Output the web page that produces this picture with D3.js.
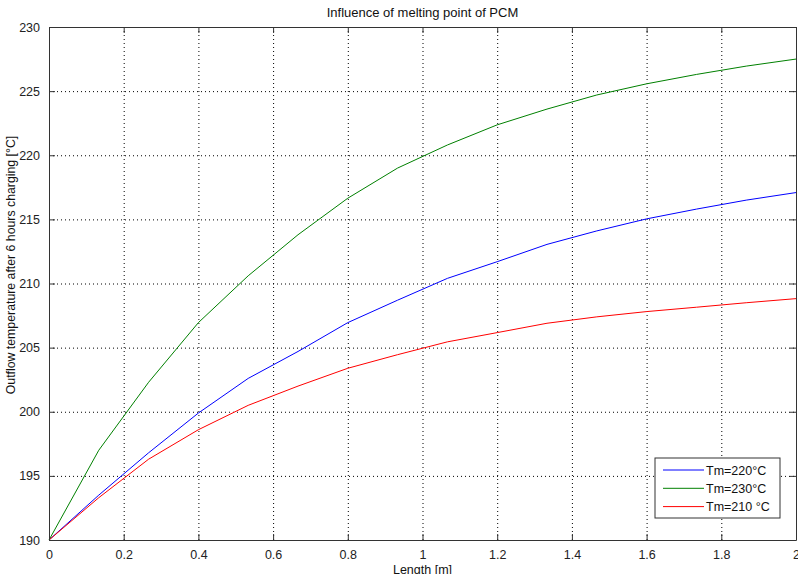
<!DOCTYPE html>
<html>
<head>
<meta charset="utf-8">
<script src="https://cdn.jsdelivr.net/npm/d3@7"></script>
<style>
  body { margin: 0; background: #fff; }
  svg { font-family: "Liberation Sans", Arial, sans-serif; }
</style>
</head>
<body>
<div id="chart"></div>
<script>
// lengths [m] where the model was sampled
const lengths = [0, 0.1333, 0.2667, 0.4, 0.5333, 0.6667, 0.8, 0.9333, 1.0667, 1.2, 1.3333, 1.4667, 1.6, 1.7333, 1.8667, 2];

const tm220 = [190, 193.5, 196.8, 199.9, 202.6, 204.7, 206.95, 208.7, 210.4, 211.7, 213.05, 214.1, 215.04, 215.8, 216.5, 217.09];
const tm230 = [190, 197.0, 202.3, 206.95, 210.6, 213.8, 216.65, 219.0, 220.8, 222.37, 223.6, 224.7, 225.57, 226.3, 226.95, 227.5];
const tm210 = [190, 193.3, 196.3, 198.6, 200.5, 202.0, 203.39, 204.45, 205.45, 206.17, 206.9, 207.4, 207.81, 208.15, 208.5, 208.82];

const seriesNames = ['Tm=220°C', 'Tm=230°C', 'Tm=210 °C'];
const seriesColors = ['#0000ff', '#008000', '#ff0000'];

const xTicks = [0, 0.2, 0.4, 0.6, 0.8, 1, 1.2, 1.4, 1.6, 1.8, 2];
const yTicks = [190, 195, 200, 205, 210, 215, 220, 225, 230];

const W = 798, H = 574;
const margin = { top: 27, right: 2, bottom: 34, left: 49 };
const width = W - margin.left - margin.right;
const height = H - margin.top - margin.bottom;

const svg = d3.select('#chart').append('svg').attr('width', W).attr('height', H);
const g = svg.append('g').attr('transform', `translate(${margin.left},${margin.top})`);

const x = d3.scaleLinear().domain([0, 2]).range([0, width]);
const y = d3.scaleLinear().domain([190, 230]).range([height, 0]);

// dotted grid
g.append('g')
    .attr('transform', `translate(0,${height})`)
    .call(d3.axisBottom(x).tickValues(xTicks).tickSize(-height).tickFormat(''))
    .call(a => a.select('.domain').remove())
    .selectAll('line').attr('stroke', '#000').attr('stroke-dasharray', '1,3');
g.append('g')
    .call(d3.axisLeft(y).tickValues(yTicks).tickSize(-width).tickFormat(''))
    .call(a => a.select('.domain').remove())
    .selectAll('line').attr('stroke', '#000').attr('stroke-dasharray', '1,3');

// curves
const line = d3.line().x((d, i) => x(lengths[i])).y(d => y(d));
const allSeries = [tm220, tm230, tm210];
g.selectAll('path.curve')
    .data(allSeries)
    .enter()
    .append('path')
    .attr('class', 'curve')
    .attr('d', line)
    .attr('fill', 'none')
    .attr('stroke', (d, i) => seriesColors[i])
    .attr('stroke-width', 1);

// axes with inward ticks, box on all sides
const tick = 6;
const fmt = d3.format('~g');
const axBottom = g.append('g').attr('transform', `translate(0,${height})`)
    .call(d3.axisBottom(x).tickValues(xTicks).tickSizeInner(-tick).tickSizeOuter(0).tickPadding(tick + 4).tickFormat(fmt));
const axLeft = g.append('g')
    .call(d3.axisLeft(y).tickValues(yTicks).tickSizeInner(-tick).tickSizeOuter(0).tickPadding(tick + 3));
const axTop = g.append('g')
    .call(d3.axisTop(x).tickValues(xTicks).tickSizeInner(-tick).tickSizeOuter(0).tickFormat(''));
const axRight = g.append('g').attr('transform', `translate(${width},0)`)
    .call(d3.axisRight(y).tickValues(yTicks).tickSizeInner(-tick).tickSizeOuter(0).tickFormat(''));

[axBottom, axLeft, axTop, axRight].forEach(a => {
    a.selectAll('path.domain').attr('stroke', '#333');
    a.selectAll('line').attr('stroke', '#333');
    a.selectAll('text').attr('fill', '#222').style('font-size', '12.5px');
});

// titles
svg.append('text')
    .attr('x', margin.left + width / 2).attr('y', 17)
    .attr('text-anchor', 'middle').style('font-size', '13px').attr('fill', '#111')
    .text('Influence of melting point of PCM');
svg.append('text')
    .attr('x', margin.left + width / 2).attr('y', 574)
    .attr('text-anchor', 'middle').style('font-size', '12.5px').attr('fill', '#111')
    .text('Length [m]');
svg.append('text')
    .attr('transform', 'translate(15,265) rotate(-90)')
    .attr('text-anchor', 'middle').style('font-size', '12.3px').attr('fill', '#111')
    .text('Outflow temperature after 6 hours charging [°C]');

// legend
const lg = svg.append('g').attr('transform', 'translate(655,458)');
lg.append('rect').attr('width', 125).attr('height', 60)
    .attr('fill', '#fff').attr('stroke', '#333');
seriesNames.forEach((name, i) => {
    const yy = 12 + i * 18.3;
    lg.append('line').attr('x1', 8).attr('x2', 49).attr('y1', yy).attr('y2', yy)
        .attr('stroke', seriesColors[i]);
    lg.append('text').attr('x', 51).attr('y', yy + 4.5)
        .style('font-size', '12.5px').attr('fill', '#111').text(name);
});
</script>
</body>
</html>
